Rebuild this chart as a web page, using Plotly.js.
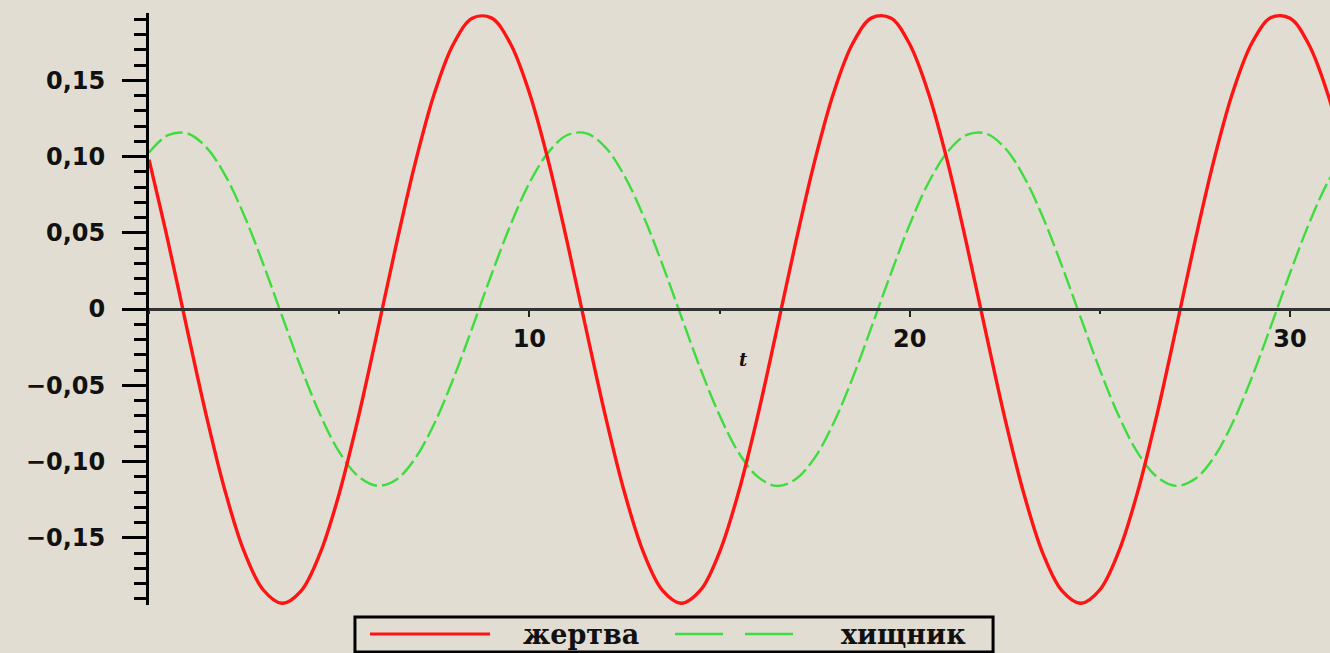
<!DOCTYPE html>
<html>
<head>
<meta charset="utf-8">
<script src="https://cdn.plot.ly/plotly-3.0.1.min.js"></script>
<style>html,body{margin:0;padding:0;background:#e2ddd2;}#chart{width:1330px;height:653px;}</style>
</head>
<body>
<div id="chart"></div>
<script>
// time samples (t)
const tValues = [0,0.5,1,1.5,2,2.5,3,3.5,4,4.5,5,5.5,6,6.5,7,7.5,8,8.5,9,9.5,10,10.5,11,11.5,12,12.5,13,13.5,14,14.5,15,15.5,16,16.5,17,17.5,18,18.5,19,19.5,20,20.5,21,21.5,22,22.5,23,23.5,24,24.5,25,25.5,26,26.5,27,27.5,28,28.5,29,29.5,30,30.5,31,31.5];
// prey (жертва) values
const preyValues = [0.0979,0.0444,-0.0130,-0.0692,-0.1193,-0.1590,-0.1841,-0.1930,-0.1848,-0.1601,-0.1211,-0.0715,-0.0153,0.0422,0.0958,0.1411,0.1736,0.1907,0.1909,0.1741,0.1418,0.0970,0.0433,-0.0141,-0.0703,-0.1202,-0.1596,-0.1845,-0.1930,-0.1844,-0.1594,-0.1202,-0.0704,-0.0142,0.0433,0.0968,0.1418,0.1741,0.1909,0.1908,0.1736,0.1410,0.0960,0.0422,-0.0152,-0.0714,-0.1210,-0.1602,-0.1847,-0.1930,-0.1841,-0.1588,-0.1193,-0.0694,-0.0130,0.0444,0.0978,0.1426,0.1746,0.1911,0.1906,0.1731,0.1403,0.0950];
// predator (хищник) values
const predatorValues = [0.1026,0.1140,0.1152,0.1062,0.0878,0.0615,0.0297,-0.0047,-0.0387,-0.0692,-0.0937,-0.1096,-0.1159,-0.1119,-0.0979,-0.0752,-0.0458,-0.0123,0.0223,0.0548,0.0826,0.1027,0.1141,0.1152,0.1060,0.0873,0.0609,0.0291,-0.0054,-0.0393,-0.0697,-0.0941,-0.1099,-0.1160,-0.1117,-0.0976,-0.0747,-0.0452,-0.0116,0.0229,0.0554,0.0831,0.1032,0.1142,0.1151,0.1057,0.0869,0.0603,0.0284,-0.0060,-0.0399,-0.0703,-0.0945,-0.1101,-0.1160,-0.1115,-0.0972,-0.0741,-0.0446,-0.0110,0.0236,0.0561,0.0836,0.1036];
const seriesNames = ["жертва", "хищник"];
const xTickVals = [10, 20, 30];
const xTickText = ["10", "20", "30"];
const yTickVals = [-0.15, -0.10, -0.05, 0, 0.05, 0.10, 0.15];
const yTickText = ["−0,15", "−0,10", "−0,05", "0", "0,05", "0,10", "0,15"];
const axisLabel = "t";

const RED = "#ff1414";
const GREEN = "#3fdc3f";
const BG = "#e2ddd2";
const tickFont = {family: "DejaVu Sans, sans-serif", size: 24, color: "#111", weight: 700};
const legendFont = {family: "DejaVu Serif, serif", size: 27, color: "#111", weight: 700};

const traces = [
  {x: tValues, y: predatorValues, name: seriesNames[1], mode: "lines",
   line: {color: GREEN, width: 2.4, dash: "18px,5px", shape: "spline", smoothing: 1}, showlegend: false},
  {x: tValues, y: preyValues, name: seriesNames[0], mode: "lines",
   line: {color: RED, width: 3.4, shape: "spline", smoothing: 1}, showlegend: false}
];

const layout = {
  width: 1330, height: 653,
  margin: {l: 149, r: 0, t: 13, b: 48},
  paper_bgcolor: BG, plot_bgcolor: BG,
  showlegend: false,
  hovermode: false,
  xaxis: {
    range: [0, 31.05], showgrid: false, zeroline: false,
    anchor: "free", position: 0.5,
    showline: true, linecolor: "#333", linewidth: 3,
    tickmode: "array", tickvals: xTickVals, ticktext: xTickText,
    ticks: "outside", ticklen: 6, tickwidth: 2, tickcolor: "#222",
    ticklabelstandoff: 1,
    minor: {dtick: 5, tick0: 0, ticks: "outside", ticklen: 3, tickwidth: 2, tickcolor: "#222", showgrid: false},
    tickfont: tickFont
  },
  yaxis: {
    range: [-0.1941, 0.1941], showgrid: false, zeroline: false,
    showline: true, linecolor: "#000", linewidth: 3,
    tickmode: "array", tickvals: yTickVals, ticktext: yTickText,
    ticks: "outside", ticklen: 24, tickwidth: 3, tickcolor: "#000",
    ticklabelstandoff: 12,
    minor: {dtick: 0.01, tick0: 0, ticks: "outside", ticklen: 12, tickwidth: 3, tickcolor: "#000", showgrid: false},
    tickfont: tickFont
  },
  shapes: [
    {type: "rect", xref: "paper", yref: "paper", x0: 0.1744, x1: 0.7147, y0: -0.0794, y1: -0.0203,
     line: {color: "#000", width: 3}, fillcolor: BG, layer: "above"},
    {type: "line", xref: "paper", yref: "paper", x0: 0.1871, x1: 0.2888, y0: -0.049, y1: -0.049,
     line: {color: RED, width: 3}},
    {type: "line", xref: "paper", yref: "paper", x0: 0.4454, x1: 0.5512, y0: -0.049, y1: -0.049,
     line: {color: GREEN, width: 2.4, dash: "48px,22px"}}
  ],
  annotations: [
    {xref: "paper", yref: "paper", x: 0.3658, y: -0.049, text: seriesNames[0], showarrow: false,
     xanchor: "center", yanchor: "middle", font: legendFont},
    {xref: "paper", yref: "paper", x: 0.6385, y: -0.049, text: seriesNames[1], showarrow: false,
     xanchor: "center", yanchor: "middle", font: legendFont},
    {xref: "x", yref: "y", x: 15.62, y: -0.0334, text: axisLabel, showarrow: false,
     xanchor: "center", yanchor: "middle", font: {family: "DejaVu Serif, serif", size: 18, color: "#111", weight: 700, style: "italic"}}
  ]
};

Plotly.newPlot("chart", traces, layout, {staticPlot: true, displayModeBar: false});
</script>
</body>
</html>
